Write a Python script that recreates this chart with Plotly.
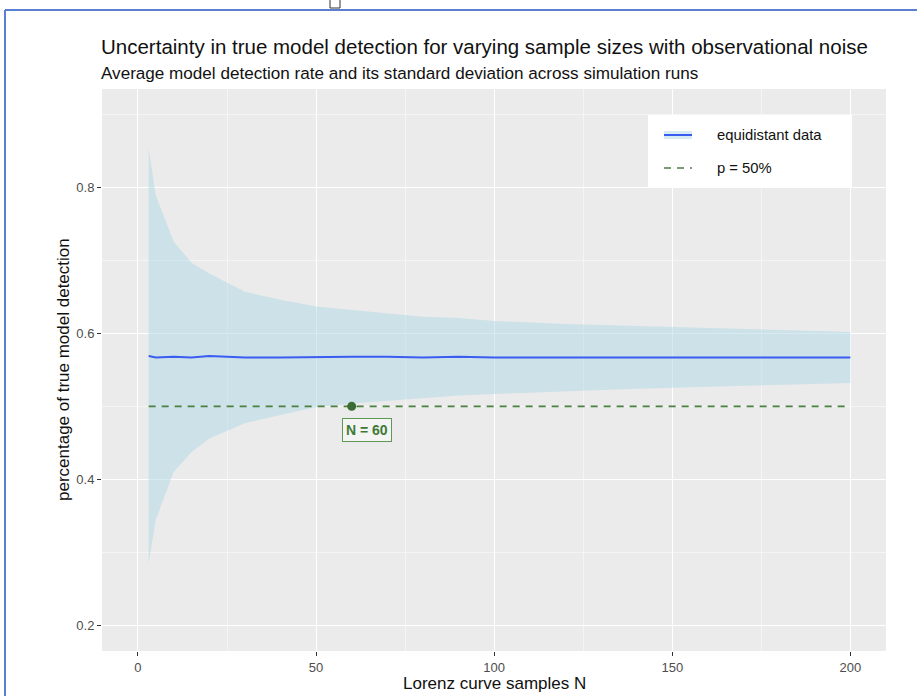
import plotly.graph_objects as go

# Simulation summary: mean detection rate and its standard deviation per sample size
sample_sizes = [3, 5, 10, 15, 20, 25, 30, 40, 50, 60, 70, 80, 90, 100, 120, 140, 160, 180, 200]
mean_rate = [0.569, 0.567, 0.568, 0.567, 0.569, 0.568, 0.567, 0.567, 0.568, 0.568,
             0.568, 0.567, 0.568, 0.567, 0.567, 0.567, 0.567, 0.567, 0.567]
sd_rate = [0.284, 0.222, 0.158, 0.130, 0.113, 0.101, 0.090, 0.079, 0.069, 0.064,
           0.060, 0.056, 0.053, 0.050, 0.046, 0.043, 0.040, 0.037, 0.035]

threshold = 0.5
threshold_n = 60

x_ticks = [0, 50, 100, 150, 200]
y_ticks = [0.2, 0.4, 0.6, 0.8]

series_names = ["equidistant data", "p = 50%"]

upper = [m + s for m, s in zip(mean_rate, sd_rate)]
lower = [m - s for m, s in zip(mean_rate, sd_rate)]

FONT = "Liberation Sans, Arial, Helvetica, sans-serif"
W, H = 917, 696
ML, MR, MT, MB = 102, 31, 89, 45
PW, PH = W - ML - MR, H - MT - MB

MEAN_COLOR = "#3b5cf0"
RIBBON_COLOR = "rgba(173,216,230,0.5)"
REF_COLOR = "#4a8040"
REF_DASH = "7px,6px"


def px_x(px):
    return (px - ML) / PW


def px_y(py):
    return (H - MB - py) / PH


fig = go.Figure()

# standard deviation ribbon
fig.add_trace(go.Scatter(x=sample_sizes, y=lower, mode="lines", line=dict(width=0),
                         showlegend=False, hoverinfo="skip"))
fig.add_trace(go.Scatter(x=sample_sizes, y=upper, mode="lines", line=dict(width=0),
                         fill="tonexty", fillcolor=RIBBON_COLOR,
                         showlegend=False, hoverinfo="skip"))

# mean detection rate
fig.add_trace(go.Scatter(x=sample_sizes, y=mean_rate, mode="lines",
                         name=series_names[0], showlegend=False,
                         line=dict(color=MEAN_COLOR, width=2)))

# 50% reference line
fig.add_trace(go.Scatter(x=[sample_sizes[0], sample_sizes[-1]], y=[threshold, threshold],
                         mode="lines", name=series_names[1], showlegend=False,
                         line=dict(color=REF_COLOR, width=1.7, dash=REF_DASH)))

# crossing point
fig.add_trace(go.Scatter(x=[threshold_n], y=[threshold], mode="markers",
                         marker=dict(color="#3d6b35", size=9), showlegend=False))

fig.add_annotation(x=threshold_n, y=threshold, xref="x", yref="y",
                   text="<b>N = %d</b>" % threshold_n, showarrow=False,
                   xanchor="left", yanchor="top", xshift=-10, yshift=-12,
                   font=dict(family=FONT, size=14, color="#3f7a35"),
                   bgcolor="rgba(245,245,245,0.9)", bordercolor="#5f9a55",
                   borderwidth=1, borderpad=3)

# title and subtitle
fig.add_annotation(x=px_x(99), y=px_y(46), xref="paper", yref="paper",
                   text="Uncertainty in true model detection for varying sample sizes with observational noise",
                   showarrow=False, xanchor="left", yanchor="middle",
                   font=dict(family=FONT, size=20.5, color="#111111"))
fig.add_annotation(x=px_x(99), y=px_y(73), xref="paper", yref="paper",
                   text="Average model detection rate and its standard deviation across simulation runs",
                   showarrow=False, xanchor="left", yanchor="middle",
                   font=dict(family=FONT, size=17.1, color="#111111"))

# axis titles
fig.add_annotation(x=0.5, y=px_y(683), xref="paper", yref="paper",
                   text="Lorenz curve samples N", showarrow=False,
                   xanchor="center", yanchor="middle",
                   font=dict(family=FONT, size=17, color="#111111"))
fig.add_annotation(x=px_x(63), y=0.5, xref="paper", yref="paper",
                   text="percentage of true model detection", showarrow=False,
                   textangle=-90, xanchor="center", yanchor="middle",
                   font=dict(family=FONT, size=17, color="#111111"))

# legend box
fig.add_shape(type="rect", xref="paper", yref="paper", x0=px_x(648), x1=px_x(852),
              y0=px_y(188), y1=px_y(115), fillcolor="white", line=dict(width=0))
fig.add_shape(type="rect", xref="paper", yref="paper", x0=px_x(664), x1=px_x(692),
              y0=px_y(139), y1=px_y(131), fillcolor=RIBBON_COLOR, line=dict(width=0))
fig.add_shape(type="line", xref="paper", yref="paper", x0=px_x(664), x1=px_x(692),
              y0=px_y(135), y1=px_y(135), line=dict(color=MEAN_COLOR, width=2))
fig.add_shape(type="line", xref="paper", yref="paper", x0=px_x(664), x1=px_x(692),
              y0=px_y(168), y1=px_y(168), line=dict(color=REF_COLOR, width=1.7, dash=REF_DASH))
for label, py in zip(series_names, [135, 168]):
    fig.add_annotation(x=px_x(715), y=px_y(py), xref="paper", yref="paper",
                       text=label, showarrow=False, xanchor="left", yanchor="middle",
                       font=dict(family=FONT, size=14.8, color="#111111"))

# page frame
frame = "#5a7fd2"
fig.add_shape(type="line", xref="paper", yref="paper", x0=px_x(5), x1=px_x(5),
              y0=px_y(10), y1=px_y(H + 5), line=dict(color=frame, width=2))
fig.add_shape(type="line", xref="paper", yref="paper", x0=px_x(5), x1=px_x(W + 5),
              y0=px_y(10), y1=px_y(10), line=dict(color=frame, width=2))
fig.add_shape(type="rect", xref="paper", yref="paper", x0=px_x(330), x1=px_x(340),
              y0=px_y(8), y1=px_y(-3), fillcolor="white", line=dict(color="#333333", width=1))

axis_common = dict(
    showgrid=True, gridcolor="white", gridwidth=1.4, zeroline=False,
    ticks="outside", ticklen=4, tickwidth=1, tickcolor="#333333",
    tickfont=dict(family=FONT, size=13, color="#4d4d4d"),
    showline=False, automargin=False,
)

fig.update_xaxes(range=[-10.1, 210], tickvals=x_ticks, ticktext=[str(v) for v in x_ticks],
                 minor=dict(tickvals=[25, 75, 125, 175], showgrid=True, gridcolor="#f5f5f5",
                            gridwidth=0.7, ticks=""),
                 **axis_common)
fig.update_yaxes(range=[0.1647, 0.935], tickvals=y_ticks, ticktext=[str(v) for v in y_ticks],
                 minor=dict(tickvals=[0.3, 0.5, 0.7, 0.9], showgrid=True, gridcolor="#f5f5f5",
                            gridwidth=0.7, ticks=""),
                 **axis_common)

fig.update_layout(
    width=W, height=H,
    margin=dict(l=ML, r=MR, t=MT, b=MB),
    paper_bgcolor="white", plot_bgcolor="#ebebeb",
    font=dict(family=FONT),
    showlegend=False,
)

fig.write_html("out.html")
